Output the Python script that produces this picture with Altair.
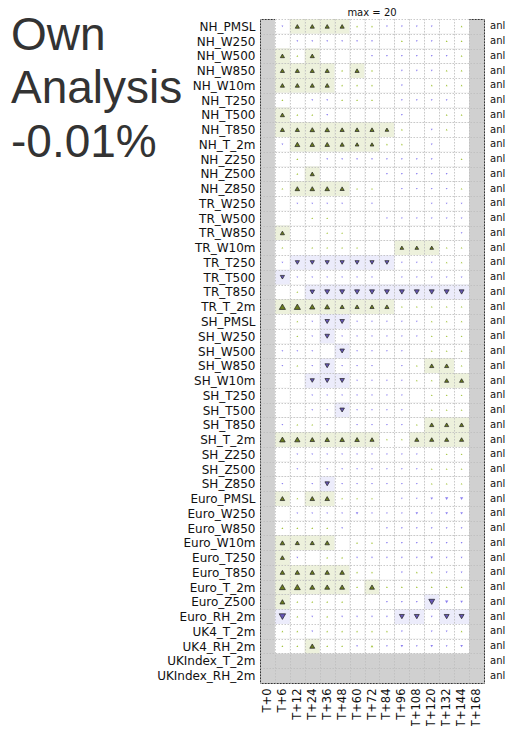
import altair as alt
import pandas as pd

BIG_TEXT = ["Own", "Analysis", "-0.01%"]
TITLE = "max = 20"
RIGHT_LABEL = "anl"

COLS = ["T+0", "T+6", "T+12", "T+24", "T+36", "T+48", "T+60", "T+72",
        "T+84", "T+96", "T+108", "T+120", "T+132", "T+144", "T+168"]
DATA_COLS = COLS[1:-1]

NH_ROWS = ["NH_PMSL", "NH_W250", "NH_W500", "NH_W850", "NH_W10m", "NH_T250",
           "NH_T500", "NH_T850", "NH_T_2m", "NH_Z250", "NH_Z500", "NH_Z850"]
NH_VALUES = [
    [-1, 5, 5, 5, 5, 1, 1, -1, -1, -1, -1, 0, 1],
    [0, -1, -1, -1, -1, -1, -1, 0, 1, -1, -1, 1, 1],
    [5, 1, 5, 0, 0, 0, -1, -1, -1, -1, -1, -1, 1],
    [5, 5, 5, 5, 1, 5, 1, 0, -1, -1, -1, 1, 1],
    [5, 5, 5, 5, 1, 1, 1, 0, -1, 0, 1, 1, 1],
    [1, 0, -1, -1, 1, 1, 1, 0, -1, -1, -1, -1, 0],
    [5, 1, 1, -1, 0, 0, 0, 0, -1, 0, 0, 1, 1],
    [5, 5, 6, 6, 5, 5, 5, 4, 1, 0, -1, 1, 0],
    [-1, 7, 6, 6, 5, 4, 4, 1, 1, 0, -1, 0, 0],
    [0, 1, 0, -1, -1, -1, -1, -1, -1, -1, -1, 0, 1],
    [0, 1, 5, 0, 0, 0, 0, -1, -1, -1, -1, -1, 0],
    [1, 6, 6, 6, 5, 1, 1, 0, -1, -1, -1, -1, 1],
]
NH_SIG = [".++++........", ".............", "+.+..........", "++++.+.......",
          "++++.........", ".............", "+............", "++++++++.....",
          ".++++++......", ".............", "..+..........", ".++++........"]

TR_ROWS = ["TR_W250", "TR_W500", "TR_W850", "TR_W10m", "TR_T250", "TR_T500",
           "TR_T850", "TR_T_2m"]
TR_VALUES = [
    [0, -1, -1, -1, -1, 0, -1, 0, 0, 0, -1, -1, -1],
    [0, 0, 1, 1, 0, 0, 0, -1, -1, -1, -1, -1, -1],
    [5, 0, 0, 1, 1, 0, 0, 0, 0, 0, 0, 0, -1],
    [1, 0, 1, 1, 1, 1, 0, 0, 4, 4, 4, 1, 1],
    [-1, -5, -5, -5, -5, -5, -5, -5, -1, -1, -1, 1, 1],
    [-5, -1, -1, -1, -1, -1, -1, 0, -1, -1, -1, -1, -1],
    [0, 1, -6, -7, -7, -7, -7, -7, -7, -7, -7, -7, -7],
    [11, 11, 8, 7, 5, 5, 5, 5, 1, 1, 1, 1, 1],
]
TR_SIG = [".............", ".............", "+............", "........+++..",
          ".-------.....", "-............", "..-----------", "++++++++....."]

SH_ROWS = ["SH_PMSL", "SH_W250", "SH_W500", "SH_W850", "SH_W10m", "SH_T250",
           "SH_T500", "SH_T850", "SH_T_2m", "SH_Z250", "SH_Z500", "SH_Z850"]
SH_VALUES = [
    [0, 1, -1, -6, -6, -1, -1, -1, -1, -1, 1, 1, 1],
    [0, 1, -1, -6, -1, -1, -1, -1, -1, -1, 1, 1, 1],
    [-1, -1, -1, 0, -6, -1, -1, -1, -1, 0, 1, 1, 1],
    [-1, 1, -1, -6, -1, -1, -1, 0, -1, 1, 5, 5, 1],
    [0, 0, -5, -6, -6, -1, -1, -1, -1, 1, 1, 5, 5],
    [0, 0, -1, -1, -1, -1, -1, -1, -1, 0, 1, 1, 1],
    [0, 0, -1, -1, -6, -1, -1, -1, -1, 0, 1, 1, 1],
    [-1, 1, 1, -1, 0, -1, -1, -1, -1, 1, 5, 5, 5],
    [9, 8, 6, 6, 6, 6, 5, 1, 1, 5, 5, 5, 5],
    [0, -1, -1, -1, -1, -1, -1, -1, -1, -1, 0, 1, 1],
    [0, -1, 0, -1, -1, -1, -1, -1, -1, -1, 1, 1, 1],
    [-1, 0, -1, -6, -1, -1, -1, -1, -1, -1, 1, 1, 1],
]
SH_SIG = ["...--........", "...-.........", "....-........", "...-......++.",
          "..---......++", ".............", "....-........", "..........+++",
          "+++++++..++++", ".............", ".............", "...-........."]

EURO_ROWS = ["Euro_PMSL", "Euro_W250", "Euro_W850", "Euro_W10m", "Euro_T250",
             "Euro_T850", "Euro_T_2m", "Euro_Z500", "Euro_RH_2m"]
EURO_VALUES = [
    [6, 1, 6, 6, 1, 1, 1, 0, -1, -1, -2, -3, -3],
    [0, -1, -1, -1, -1, -2, -1, -1, -1, -2, -1, -2, -2],
    [1, 1, 1, 1, -1, 0, 0, -1, -1, -1, -1, -1, -1],
    [6, 5, 5, 6, 0, 1, 1, -1, -1, -1, -1, -1, -1],
    [5, -1, 0, 1, 1, -1, -1, -1, -1, -1, -2, -1, -1],
    [6, 6, 6, 6, 6, 1, 1, 0, -1, 1, 1, -1, -1],
    [10, 10, 7, 7, 7, 1, 7, 1, 1, 1, 1, 1, 1],
    [7, 1, 1, 1, 1, 0, 0, -1, -1, -1, -10, -3, -2],
    [-12, 1, -1, 1, -1, -1, -1, -1, -7, -7, -1, -7, -7],
]
EURO_SIG = ["+.++.........", ".............", ".............", "++++.........",
            "+............", "+++++........", "+++++.+......", "+.........-..",
            "-.......--.--"]

UK_ROWS = ["UK4_T_2m", "UK4_RH_2m"]
UK_VALUES = [
    [1, 1, -1, 1, 1, 1, 1, 1, -1, 0, -1, -1, 1],
    [1, 1, 7, 1, 1, -1, 2, -1, -2, -1, -2, -1, -2],
]
UK_SIG = [".............", "..+.........."]

EMPTY_ROWS = ["UKIndex_T_2m", "UKIndex_RH_2m"]

ROWS = NH_ROWS + TR_ROWS + SH_ROWS + EURO_ROWS + UK_ROWS + EMPTY_ROWS

records = []
for rows, vals, sigs in [(NH_ROWS, NH_VALUES, NH_SIG), (TR_ROWS, TR_VALUES, TR_SIG),
                         (SH_ROWS, SH_VALUES, SH_SIG), (EURO_ROWS, EURO_VALUES, EURO_SIG),
                         (UK_ROWS, UK_VALUES, UK_SIG)]:
    for r, vrow, srow in zip(rows, vals, sigs):
        for c, v, s in zip(DATA_COLS, vrow, srow):
            records.append({
                "row": r, "col": c, "v": v, "mag": abs(v),
                "dir": "up" if v > 0 else "down",
                "bg": "up" if s == "+" else ("down" if s == "-" else "none"),
                "sig": s != ".",
            })
df = pd.DataFrame(records)

TOP = 11
W, H = 224, 664
FONT = "DejaVu Sans"

X = alt.X("col:N", sort=COLS,
          scale=alt.Scale(domain=COLS, paddingInner=0, paddingOuter=0),
          axis=alt.Axis(title=None, orient="bottom", labelAngle=270, labelPadding=5,
                        ticks=False, domain=False, grid=True, tickBand="extent",
                        gridDash=[1.5, 1.5], gridColor="#bdbdbd", gridWidth=0.8,
                        labelFont=FONT, labelFontSize=11.5, labelColor="#111111",
                        zindex=1))
Y = alt.Y("row:N", sort=ROWS,
          scale=alt.Scale(domain=ROWS, paddingInner=0, paddingOuter=0),
          axis=alt.Axis(title=None, orient="left", labelPadding=5, ticks=False,
                        domain=False, grid=True, tickBand="extent",
                        gridDash=[1.5, 1.5], gridColor="#bdbdbd", gridWidth=0.8,
                        labelFont=FONT, labelFontSize=12, labelColor="#111111",
                        labelLimit=300, zindex=1))

SIZE = alt.Size("mag:Q", scale=alt.Scale(domain=[0, 20], range=[0, 70]), legend=None)
SHAPE = alt.Shape("dir:N", scale=alt.Scale(domain=["up", "down"],
                                           range=["triangle-up", "triangle-down"]),
                  legend=None)

base = alt.Chart(df)

cells = base.mark_rect().encode(
    x=X, y=Y,
    color=alt.Color("bg:N", scale=alt.Scale(domain=["up", "down", "none"],
                                            range=["#edf1dc", "#ececfb", "#ffffff"]),
                    legend=None),
)

weak = base.transform_filter("!datum.sig && datum.mag > 0").mark_point(
    filled=True, opacity=1).encode(
    x=X, y=Y, shape=SHAPE, size=SIZE,
    color=alt.Color("dir:N", scale=alt.Scale(domain=["up", "down"],
                                             range=["#a3c43c", "#8a7ef0"]),
                    legend=None),
)

strong = base.transform_filter("datum.sig").mark_point(
    filled=True, opacity=1, stroke="#222222", strokeWidth=0.7).encode(
    x=X, y=Y, shape=SHAPE, size=SIZE,
    fill=alt.Fill("dir:N", scale=alt.Scale(domain=["up", "down"],
                                           range=["#6b7d1f", "#6657b8"]),
                  legend=None),
)

anl = alt.Chart(pd.DataFrame({"row": ROWS})).mark_text(
    align="left", baseline="middle", fontSize=10, font=FONT, color="#111111"
).encode(y=Y, x=alt.value(W + 6), text=alt.value(RIGHT_LABEL))

title = alt.Chart(pd.DataFrame({"t": [TITLE]})).mark_text(
    align="center", baseline="top", fontSize=10, font=FONT, color="#111111"
).encode(x=alt.value(W / 2), y=alt.value(-TOP), text="t:N")

BIG_BASELINES = [30.8, 83.5, 137.7]
big_layers = []
for line, yb in zip(BIG_TEXT, BIG_BASELINES):
    big_layers.append(
        alt.Chart(pd.DataFrame({"t": [line]})).mark_text(
            align="left", baseline="alphabetic", fontSize=46,
            font="Liberation Sans", color="#333333"
        ).encode(x=alt.value(-249), y=alt.value(yb), text="t:N")
    )

chart = alt.layer(cells, weak, strong, anl, title, *big_layers).resolve_scale(
    color="independent", fill="independent"
).properties(
    width=W, height=H,
    padding={"left": 252, "top": TOP, "right": 21, "bottom": 43},
    autosize="none",
).configure_view(fill="#d0d0d0", stroke="#333333", strokeWidth=1)

chart.save("out.html", embed_options={"renderer": "svg", "actions": False})
